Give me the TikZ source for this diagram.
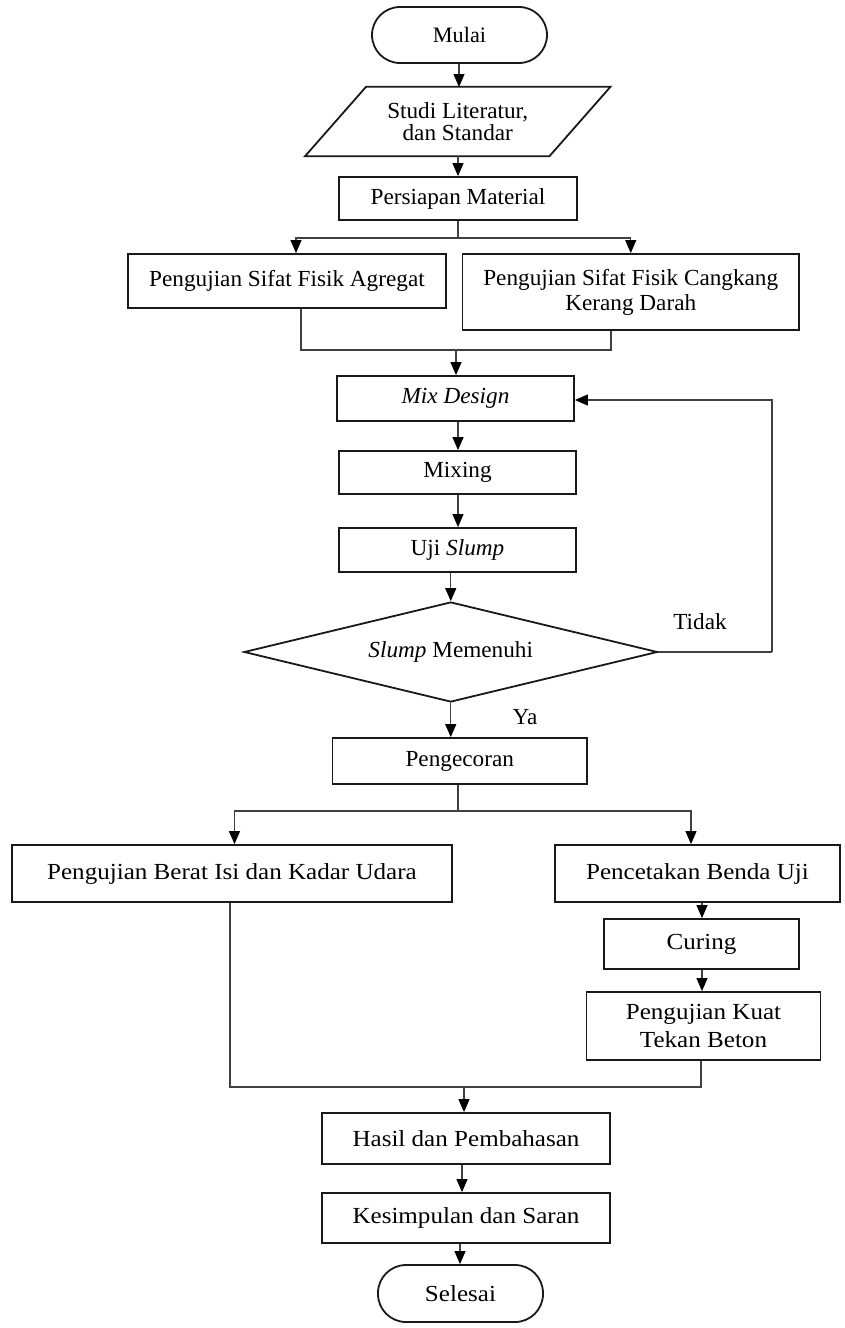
\documentclass[tikz,border=0pt]{standalone}
\usepackage{fontspec}
\setmainfont{Liberation Serif}[FakeStretch=1.01]
\newfontfamily\widefont{Liberation Serif}[FakeStretch=1.09]
\usetikzlibrary{shapes.geometric,arrows.meta,calc}
\begin{document}
\begin{tikzpicture}[x=1pt,y=-1pt,
  font=\fontsize{23}{25}\selectfont,
  box/.style={draw=black!90, line width=1.8pt, inner sep=0pt, align=center},
  wbox/.style={box, font=\widefont\fontsize{23}{25}\selectfont},
  term/.style={box, rounded corners=28pt},
  conn/.style={draw=black!75, line width=1.1pt},
  arr/.style={conn, -{Triangle[length=13pt,width=11pt,fill=black,color=black]}},
  lbl/.style={inner sep=0pt}
]
\useasboundingbox (0,0) rectangle (845,1328);

\node[term, minimum width=175pt, minimum height=56pt, font=\fontsize{22}{25}\selectfont] (mulai) at (459.5,35) {Mulai};
\node[inner sep=0pt, minimum width=244pt, minimum height=69pt, align=center, font=\fontsize{23}{22}\selectfont] (studi) at (457.75,121.5) {Studi Literatur,\\dan Standar};
\draw[box] ($(studi.north west)+(30.5,0)$) -- ($(studi.north east)+(30.5,0)$) -- ($(studi.south east)+(-30.5,0)$) -- ($(studi.south west)+(-30.5,0)$) -- cycle;
\node[box, minimum width=238pt, minimum height=43pt] (persiapan) at (458,198.5) {Persiapan Material};
\node[box, minimum width=318pt, minimum height=54pt] (agregat) at (287,281) {Pengujian Sifat Fisik Agregat};
\node[box, minimum width=336.5pt, minimum height=76pt] (cangkang) at (630.75,292) {Pengujian Sifat Fisik Cangkang\\Kerang Darah};
\node[box, minimum width=237pt, minimum height=45pt] (mix) at (455.5,398.5) {\itshape Mix Design};
\node[box, minimum width=237pt, minimum height=43pt] (mixing) at (457.5,472.5) {Mixing};
\node[box, minimum width=237pt, minimum height=44pt] (uji) at (457.5,550) {Uji \textit{Slump}};
\node[draw=black!90, line width=1.8pt, diamond, aspect=4.135, inner sep=0pt, minimum width=413.5pt, minimum height=100pt] (slump) at (450.75,652) {\textit{Slump} Memenuhi};
\node[box, minimum width=254.5pt, minimum height=46pt] (cor) at (459.75,761) {Pengecoran};
\node[wbox, minimum width=440pt, minimum height=57pt] (berat) at (232,873.5) {Pengujian Berat Isi dan Kadar Udara};
\node[wbox, minimum width=285pt, minimum height=57pt] (cetak) at (697.5,873.5) {Pencetakan Benda Uji};
\node[wbox, minimum width=195pt, minimum height=50pt] (curing) at (701.5,944) {Curing};
\node[wbox, minimum width=234pt, minimum height=68pt, font=\widefont\fontsize{23}{28}\selectfont] (kuat) at (703.5,1026) {Pengujian Kuat\\Tekan Beton};
\node[wbox, minimum width=288pt, minimum height=51pt] (hasil) at (466,1138.5) {Hasil dan Pembahasan};
\node[wbox, minimum width=288pt, minimum height=50pt] (simpul) at (466,1218) {Kesimpulan dan Saran};
\node[term, minimum width=165pt, minimum height=57pt, font=\widefont\fontsize{23}{25}\selectfont] (selesai) at (460.5,1293.5) {Selesai};

\node[lbl] (tidak) at (700,622) {Tidak};
\node[lbl] (ya) at (525,717) {Ya};

% connectors
\draw[arr] (mulai.south -| 459,0) -- (459,87);
\draw[arr] (458,156) -- (persiapan.north -| 458,0);
\coordinate (s1) at (458,238);
\draw[conn] (persiapan.south -| s1) -- (s1);
\draw[arr] (s1) -| (agregat.north -| 296,0);
\draw[arr] (s1) -| (cangkang.north);
\coordinate (m1) at (456,350);
\draw[conn] (agregat.south -| 301,0) |- (m1);
\draw[conn] (cangkang.south -| 611,0) |- (m1);
\draw[arr] (m1) -- (mix.north -| m1);
\draw[arr] (mix.south -| 458,0) -- (mixing.north -| 458,0);
\draw[arr] (mixing.south -| 458,0) -- (uji.north -| 458,0);
\draw[arr] (uji.south -| slump.north) -- (slump.north);
\coordinate (fb) at (772,652);
\draw[conn] (slump.east) -- (fb);
\draw[arr] (fb) |- (mix.east |- 0,400);
\draw[arr] (slump.south) -- (cor.north -| slump.south);
\coordinate (s2) at (458,811);
\draw[conn] (cor.south -| s2) -- (s2);
\draw[arr] (s2) -| (berat.north -| 234.5,0);
\draw[arr] (s2) -| (cetak.north -| 691,0);
\draw[arr] (cetak.south -| 702,0) -- (curing.north -| 702,0);
\draw[arr] (curing.south -| 702,0) -- (kuat.north -| 702,0);
\coordinate (m2) at (464,1087);
\draw[conn] (berat.south -| 230,0) |- (m2);
\draw[conn] (kuat.south -| 701,0) |- (m2);
\draw[arr] (m2) -- (hasil.north -| m2);
\draw[arr] (hasil.south -| 462,0) -- (simpul.north -| 462,0);
\draw[arr] (simpul.south -| 460,0) -- (selesai.north -| 460,0);
\end{tikzpicture}
\end{document}
